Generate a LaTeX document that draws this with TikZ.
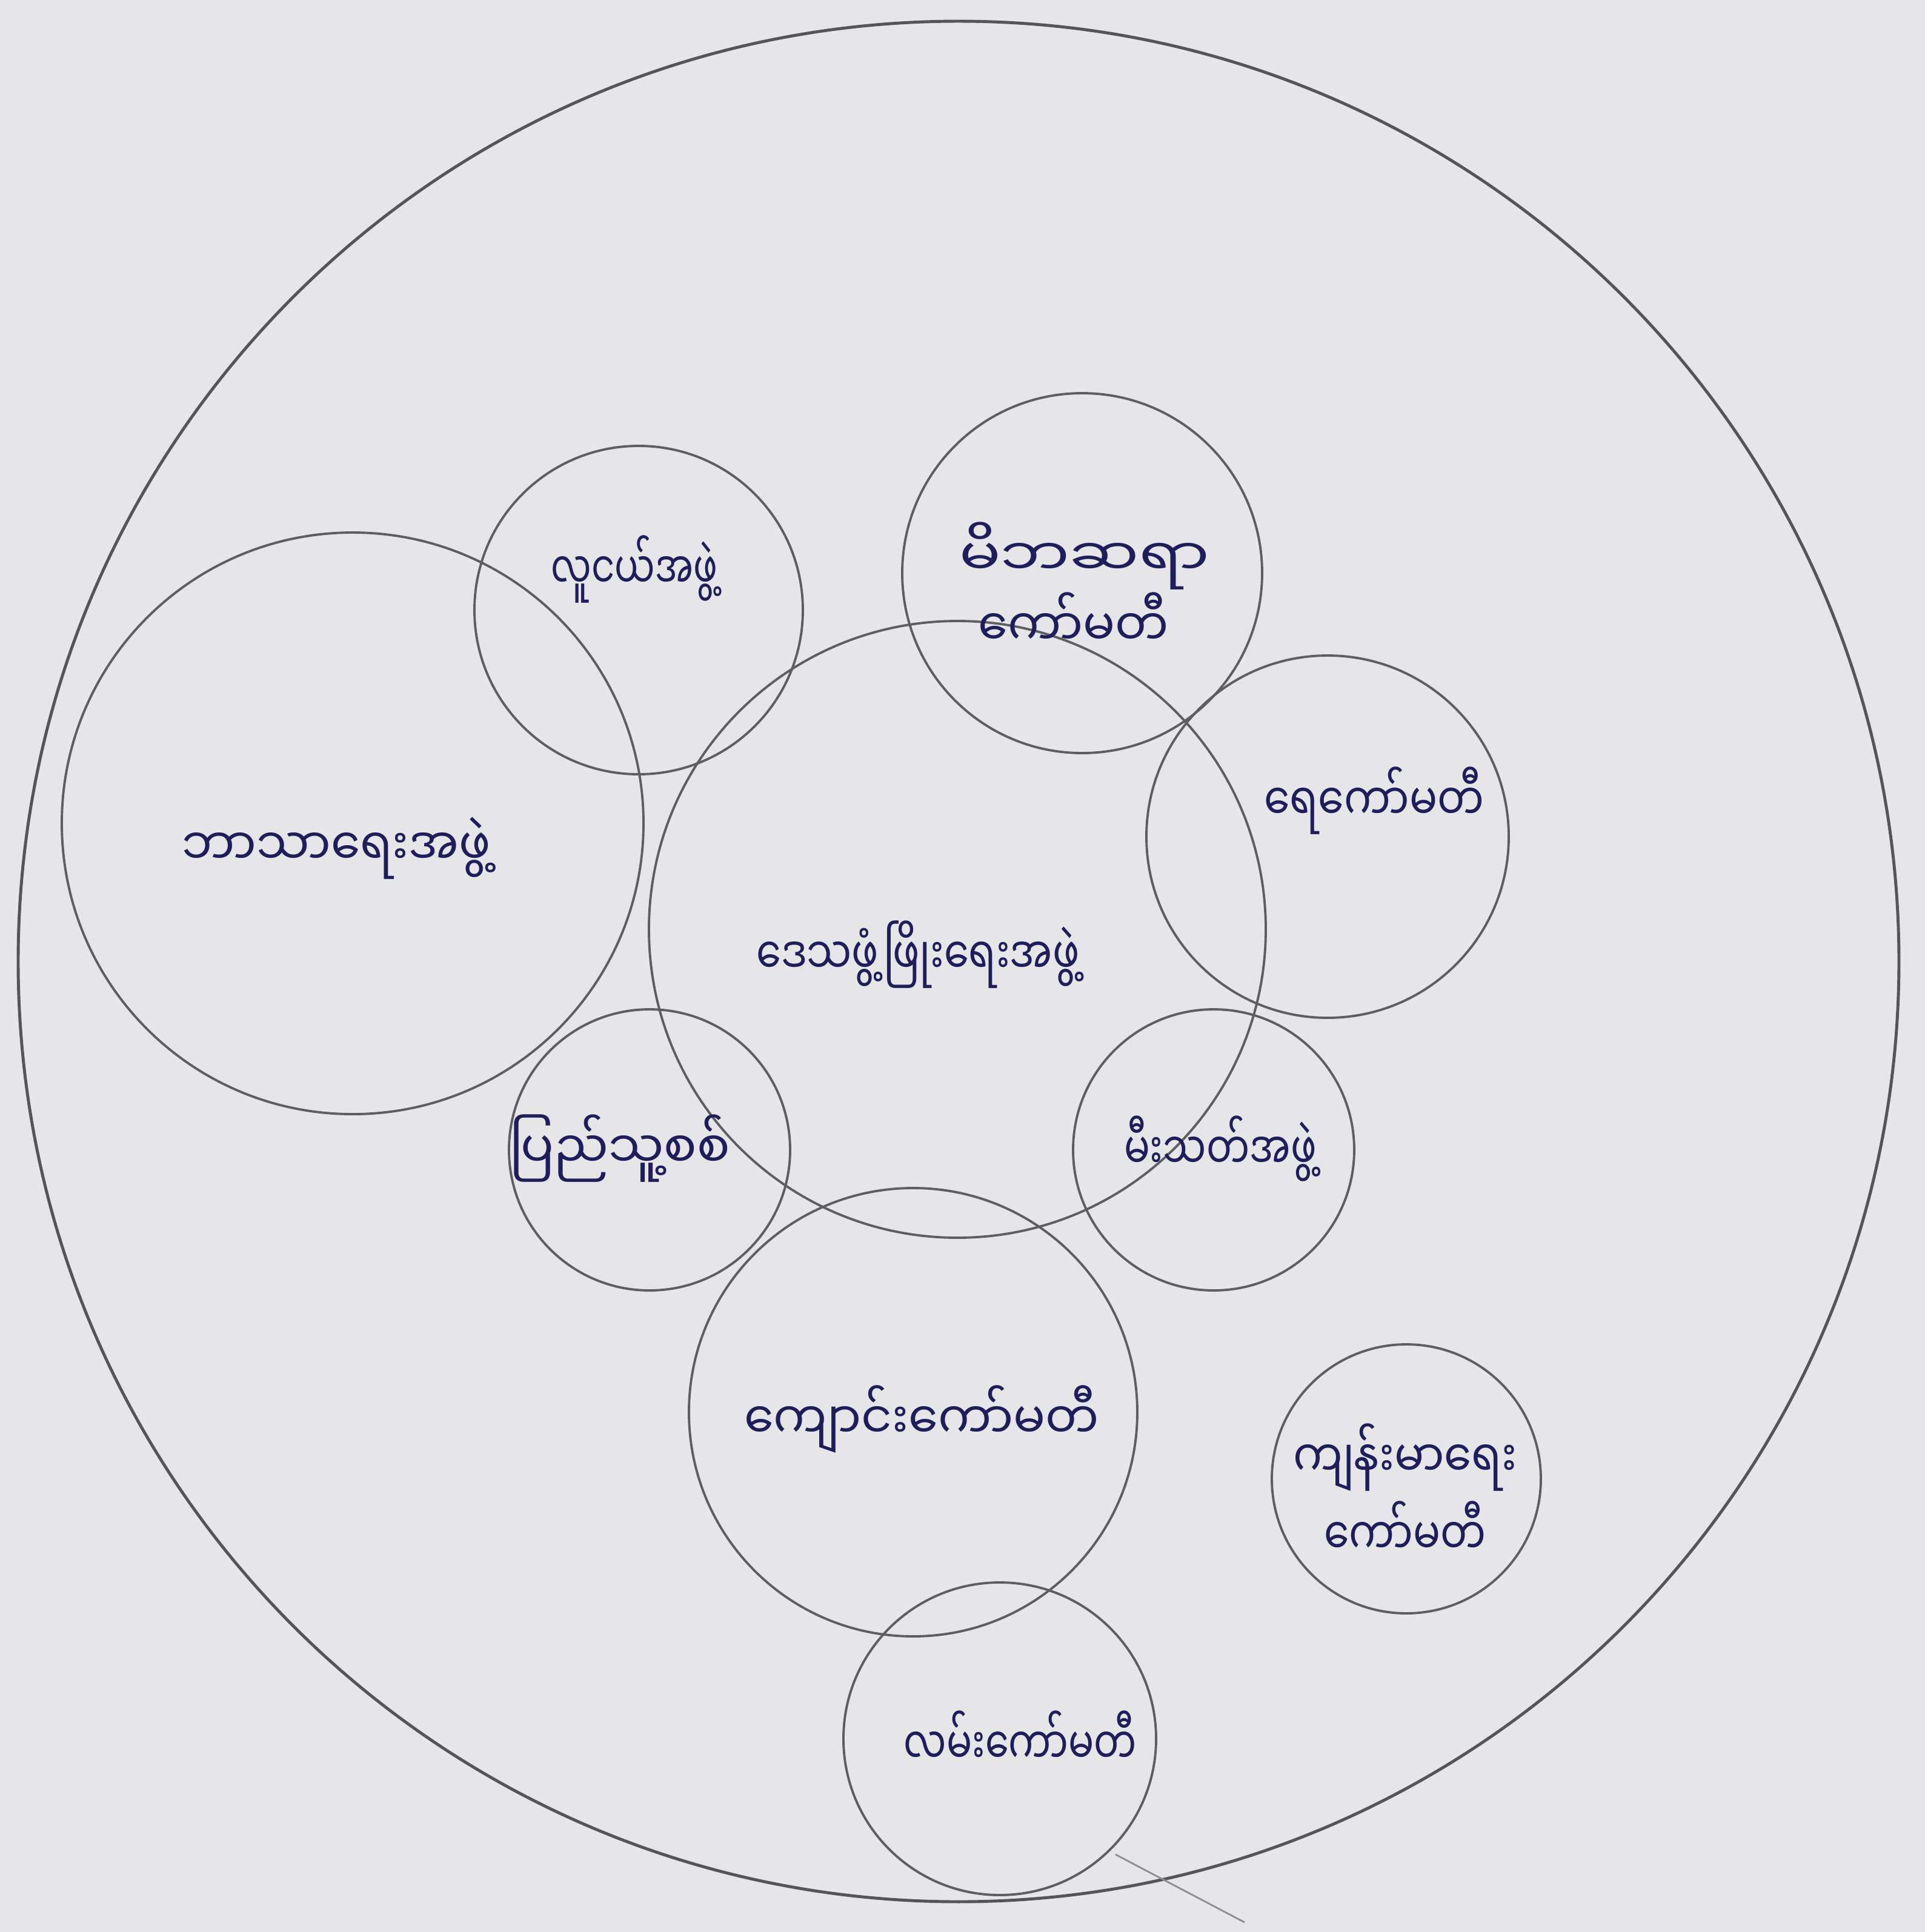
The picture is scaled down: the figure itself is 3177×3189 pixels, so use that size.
\documentclass[tikz,border=0pt]{standalone}
\usepackage{graphicx}
\usepackage{fontspec}
\newfontfamily\myan[Script=Myanmar]{Noto Sans Myanmar UI}
\definecolor{paper}{HTML}{E6E6E8}
\definecolor{pencil}{HTML}{5E5E62}
\definecolor{ink}{HTML}{1E1E5C}
\newcommand{\sq}[2]{\scalebox{#1}[1]{#2}}
\tikzset{
  ring/.style={draw=pencil, line width=1.1pt},
  outerring/.style={draw=pencil!90!black, line width=1.4pt},
  lbl/.style={text=ink, font=\myan\fontsize{24}{24}\selectfont, inner sep=0pt}
}
\begin{document}
\begin{tikzpicture}[x=0.01cm, y=-0.01cm]
\fill[paper] (0,0) rectangle (3177,3189);
\useasboundingbox (0,0) rectangle (3177,3189);
% circles
\draw[outerring] (1582,1587) circle (1552);
\draw[ring] (582,1359) circle (480);
\draw[ring] (1054,1007) circle (271);
\draw[ring] (1786,946) circle (297);
\draw[ring] (1580,1534) circle (509);
\draw[ring] (2191,1381) circle (299);
\draw[ring] (1072,1898) circle (232);
\draw[ring] (2003,1898) circle (232);
\draw[ring] (1507,2331) circle (370);
\draw[ring] (2321,2441) circle (222);
\draw[ring] (1650,2870) circle (258);
% stray pencil stroke
\coordinate (s1) at (1841,3061);
\coordinate (s2) at (2054,3173);
\draw[pencil!70, line width=0.8pt] (s1) -- (s2);
% labels
\node[lbl] (relig) at (555,1400) {\sq{0.92}{ဘာသာရေးအဖွဲ့}};
\node[lbl] (youth) at (1047,940) {\sq{0.70}{လူငယ်အဖွဲ့}};
\node[lbl] (pta1) at (1790,918) {\sq{1.2}{မိဘဆရာ}};
\node[lbl] (pta2) at (1772,1022) {\sq{0.93}{ကော်မတီ}};
\node[lbl] (water) at (2268,1322) {\sq{0.81}{ရေကော်မတီ}};
\node[lbl] (center) at (1515,1576) {\sq{0.78}{ဒေသဖွံ့ဖြိုးရေးအဖွဲ့}};
\node[lbl] (militia) at (1023,1896) {\sq{0.96}{ပြည်သူ့စစ်}};
\node[lbl] (fire) at (2014,1896) {\sq{0.75}{မီးသတ်အဖွဲ့}};
\node[lbl] (school) at (1521,2343) {\sq{0.93}{ကျောင်းကော်မတီ}};
\node[lbl] (health1) at (2319,2406) {\sq{0.86}{ကျန်းမာရေး}};
\node[lbl] (health2) at (2319,2522) {\sq{0.79}{ကော်မတီ}};
\node[lbl] (road) at (1684,2868) {\sq{0.74}{လမ်းကော်မတီ}};
\end{tikzpicture}
\end{document}
